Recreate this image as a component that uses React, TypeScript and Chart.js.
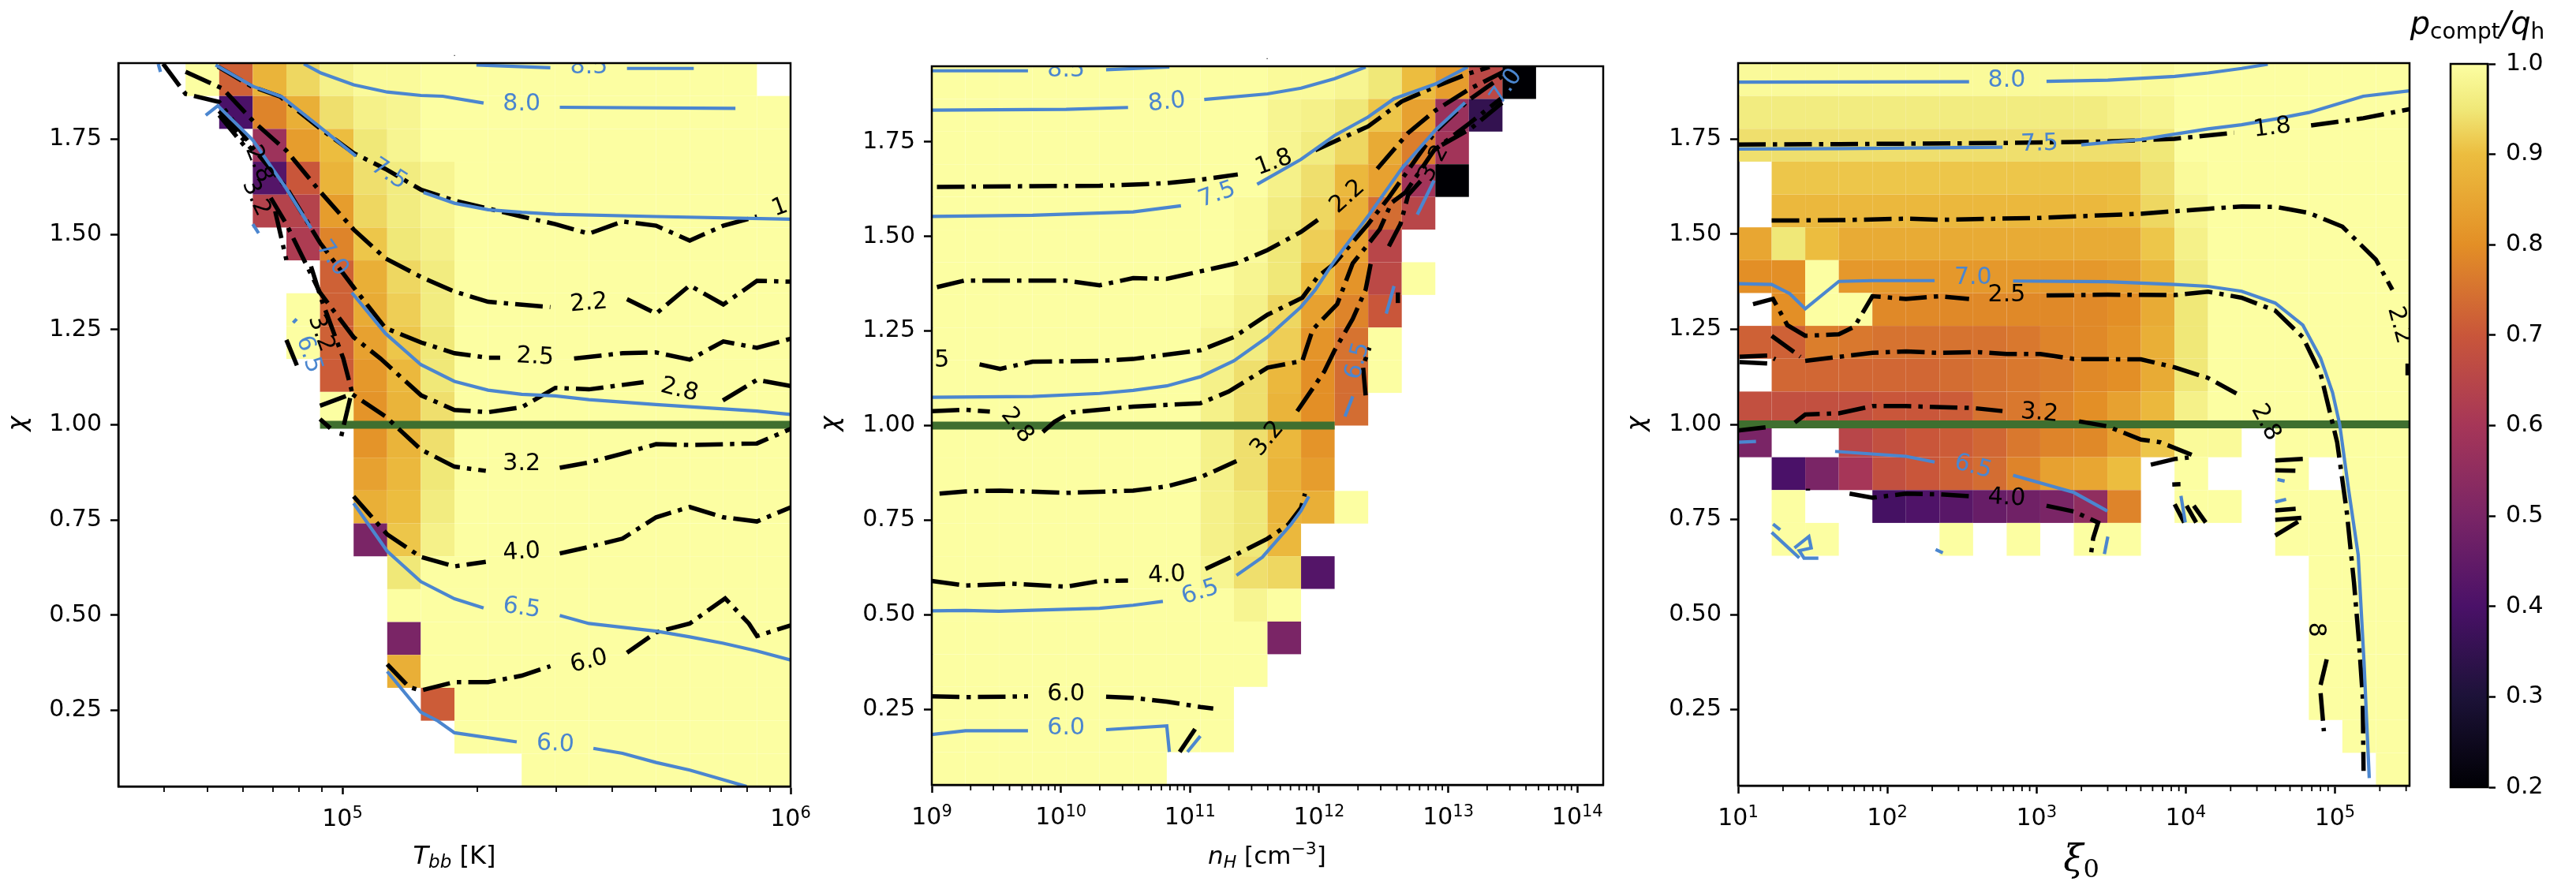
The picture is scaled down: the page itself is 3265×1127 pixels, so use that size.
import { useEffect, useRef } from "react";
import Chart from "chart.js/auto";

const _ = null;

// colour bar
const cbValues = [0.2, 0.3, 0.4, 0.5, 0.6, 0.7, 0.8, 0.9, 0.95, 1.0];
const cbColors = ["#000004", "#1c1238", "#4a1168", "#7a2566", "#a63658", "#c9563a", "#e38f26", "#ecbd3f", "#f0e878", "#fcfea2"];
const cbTicks = [0.2, 0.3, 0.4, 0.5, 0.6, 0.7, 0.8, 0.9, 1.0];

const chiTicks = [0.25, 0.5, 0.75, 1.0, 1.25, 1.5, 1.75];

// ---- Tbb panel ----
const tbbGrid = [
  [_, _, 1, .72, .88, .93, .97, .99, .99, 1, 1, 1, 1, 1, 1, 1, 1, 1, 1, _],
  [_, _, _, .40, .78, .87, .94, .97, .98, 1, 1, 1, 1, 1, 1, 1, 1, 1, 1, 1],
  [_, _, _, _, .58, .83, .90, .95, .98, 1, 1, 1, 1, 1, 1, 1, 1, 1, 1, 1],
  [_, _, _, _, .42, .70, .88, .94, .96, .98, 1, 1, 1, 1, 1, 1, 1, 1, 1, 1],
  [_, _, _, _, .64, .64, .83, .93, .96, .98, 1, 1, 1, 1, 1, 1, 1, 1, 1, 1],
  [_, _, _, _, _, .62, .78, .91, .95, .97, 1, 1, 1, 1, 1, 1, 1, 1, 1, 1],
  [_, _, _, _, _, _, .72, .87, .93, .96, 1, 1, 1, 1, 1, 1, 1, 1, 1, 1],
  [_, _, _, _, _, 1, .72, .86, .92, .96, 1, 1, 1, 1, 1, 1, 1, 1, 1, 1],
  [_, _, _, _, _, 1, .72, .84, .91, .95, 1, 1, 1, 1, 1, 1, 1, 1, 1, 1],
  [_, _, _, _, _, _, .71, .82, .89, .95, 1, 1, 1, 1, 1, 1, 1, 1, 1, 1],
  [_, _, _, _, _, _, 1, .81, .88, .94, 1, 1, 1, 1, 1, 1, 1, 1, 1, 1],
  [_, _, _, _, _, _, _, .81, .88, .94, 1, 1, 1, 1, 1, 1, 1, 1, 1, 1],
  [_, _, _, _, _, _, _, .84, .89, .95, 1, 1, 1, 1, 1, 1, 1, 1, 1, 1],
  [_, _, _, _, _, _, _, .87, .90, .96, 1, 1, 1, 1, 1, 1, 1, 1, 1, 1],
  [_, _, _, _, _, _, _, .50, .91, .97, 1, 1, 1, 1, 1, 1, 1, 1, 1, 1],
  [_, _, _, _, _, _, _, _, .95, 1, 1, 1, 1, 1, 1, 1, 1, 1, 1, 1],
  [_, _, _, _, _, _, _, _, 1, 1, 1, 1, 1, 1, 1, 1, 1, 1, 1, 1],
  [_, _, _, _, _, _, _, _, .50, 1, 1, 1, 1, 1, 1, 1, 1, 1, 1, 1],
  [_, _, _, _, _, _, _, _, .87, 1, 1, 1, 1, 1, 1, 1, 1, 1, 1, 1],
  [_, _, _, _, _, _, _, _, _, .71, 1, 1, 1, 1, 1, 1, 1, 1, 1, 1],
  [_, _, _, _, _, _, _, _, _, _, 1, 1, 1, 1, 1, 1, 1, 1, 1, 1],
  [_, _, _, _, _, _, _, _, _, _, _, _, 1, 1, 1, 1, 1, 1, 1, 1],
];
const tbbBlack = [
  [[4.722, 1.941], [4.797, 1.889], [4.861, 1.862], [4.957, 1.772], [5.026, 1.713], [5.096, 1.672], [5.176, 1.617], [5.25, 1.589], [5.325, 1.568], [5.4, 1.547], [5.475, 1.527], [5.55, 1.502], [5.625, 1.534], [5.7, 1.523], [5.775, 1.484], [5.85, 1.523], [5.925, 1.547]],
  [[4.65, 1.927], [4.733, 1.883], [4.802, 1.796], [4.875, 1.72], [4.95, 1.613], [5.025, 1.513], [5.096, 1.437], [5.176, 1.388], [5.25, 1.35], [5.325, 1.323], [5.464, 1.309]],
  [[5.635, 1.33], [5.7, 1.292], [5.775, 1.366], [5.85, 1.316], [5.925, 1.378], [6.0, 1.376]],
  [[4.6, 1.948], [4.65, 1.869], [4.725, 1.848], [4.8, 1.727], [4.875, 1.623], [4.95, 1.478], [5.025, 1.361], [5.096, 1.254], [5.176, 1.216], [5.25, 1.188], [5.325, 1.176], [5.352, 1.176]],
  [[5.517, 1.174], [5.625, 1.188], [5.7, 1.19], [5.775, 1.171], [5.85, 1.219], [5.925, 1.202], [6.0, 1.226]],
  [[4.725, 1.824], [4.8, 1.72]],
  [[4.84, 1.596], [4.875, 1.527], [4.95, 1.347], [5.025, 1.23], [5.085, 1.174], [5.176, 1.077], [5.25, 1.039], [5.325, 1.033], [5.4, 1.046], [5.475, 1.097], [5.55, 1.093], [5.672, 1.112]],
  [[5.849, 1.064], [5.925, 1.118], [6.0, 1.102]],
  [[4.725, 1.813], [4.79, 1.72]],
  [[4.85, 1.561], [4.875, 1.433]],
  [[4.93, 1.416], [4.952, 1.333], [5.002, 1.174], [5.021, 1.088], [4.994, 0.953]],
  [[4.95, 1.05], [5.021, 1.081], [5.096, 1.022], [5.175, 0.935], [5.25, 0.89], [5.32, 0.879]],
  [[5.485, 0.887], [5.55, 0.901], [5.625, 0.924], [5.7, 0.949], [5.775, 0.947], [5.925, 0.951], [6.0, 0.989]],
  [[4.95, 1.015], [4.973, 0.991]],
  [[4.875, 1.223], [4.904, 1.14]],
  [[5.025, 0.812], [5.1, 0.712], [5.175, 0.653], [5.25, 0.628], [5.32, 0.64]],
  [[5.485, 0.662], [5.55, 0.679], [5.625, 0.701], [5.7, 0.757], [5.775, 0.784], [5.85, 0.757], [5.925, 0.746], [6.0, 0.783]],
  [[5.1, 0.371], [5.149, 0.311], [5.175, 0.302], [5.25, 0.324], [5.325, 0.324], [5.4, 0.341], [5.464, 0.366]],
  [[5.635, 0.401], [5.7, 0.455], [5.775, 0.478], [5.854, 0.544], [5.907, 0.478], [5.925, 0.445], [6.0, 0.473]],
];
const tbbBlue = [
  [[5.299, 1.945], [5.464, 1.938]],
  [[5.635, 1.936], [5.784, 1.936]],
  [[4.914, 1.948], [4.952, 1.924], [5.025, 1.893], [5.1, 1.874], [5.175, 1.865], [5.224, 1.863], [5.315, 1.845]],
  [[5.485, 1.834], [5.877, 1.831]],
  [[4.717, 1.945], [4.8, 1.889], [4.864, 1.862], [4.95, 1.782], [5.03, 1.706]],
  [[5.181, 1.61], [5.25, 1.582], [5.325, 1.565], [5.4, 1.558], [5.475, 1.553], [5.7, 1.547], [6.0, 1.54]],
  [[4.695, 1.813], [4.722, 1.838], [4.8, 1.748], [4.875, 1.62], [4.93, 1.516]],
  [[4.8, 1.527], [4.813, 1.503]],
  [[4.589, 1.948], [4.594, 1.927]],
  [[5.021, 1.347], [5.096, 1.24], [5.175, 1.158], [5.25, 1.114], [5.325, 1.091], [5.4, 1.08], [5.475, 1.076], [5.55, 1.066], [5.7, 1.053], [5.925, 1.036], [6.0, 1.027]],
  [[4.89, 1.268], [4.898, 1.278]],
  [[5.025, 0.794], [5.1, 0.668], [5.175, 0.588], [5.25, 0.543], [5.315, 0.519]],
  [[5.485, 0.499], [5.55, 0.478], [5.7, 0.458], [5.775, 0.443], [5.85, 0.426], [5.925, 0.406], [6.0, 0.382]],
  [[5.1, 0.352], [5.175, 0.245], [5.213, 0.222], [5.25, 0.191], [5.389, 0.167]],
  [[5.56, 0.15], [5.625, 0.137], [5.7, 0.113], [5.775, 0.093], [5.902, 0.05]],
];
const tbbBlackLabels = [
  { t: "1.8", x: 6.0, y: 1.58, r: -20 },
  { t: "2.2", x: 5.55, y: 1.319, r: -5 },
  { t: "2.5", x: 5.43, y: 1.178, r: 3 },
  { t: "2.8", x: 5.752, y: 1.091, r: 14 },
  { t: "2.8", x: 4.813, y: 1.685, r: 68 },
  { t: "3.2", x: 4.807, y: 1.596, r: 65 },
  { t: "3.2", x: 4.952, y: 1.24, r: 70 },
  { t: "3.2", x: 5.4, y: 0.898, r: 0 },
  { t: "4.0", x: 5.4, y: 0.665, r: -4 },
  { t: "6.0", x: 5.55, y: 0.378, r: -14 },
];
const tbbBlueLabels = [
  { t: "8.5", x: 5.55, y: 1.94, r: 0 },
  { t: "8.0", x: 5.4, y: 1.841, r: 0 },
  { t: "7.5", x: 5.104, y: 1.658, r: 33 },
  { t: "7.0", x: 4.977, y: 1.437, r: 55 },
  { t: "6.5", x: 4.925, y: 1.185, r: 72 },
  { t: "6.5", x: 5.4, y: 0.518, r: 8 },
  { t: "6.0", x: 5.475, y: 0.161, r: 3 },
];
const tbbGreen = [[4.95, 1.0], [6.0, 1.0]];
const tbbTicks = [1e5, 1e6];
const tbbTickExps = ["5", "6"];

// ---- nH panel ----
const nhGrid = [
  [1, 1, 1, 1, 1, 1, 1, 1, 1, 1, .99, .99, .98, .95, .90, .83, .66, .2, _, _],
  [1, 1, 1, 1, 1, 1, 1, 1, 1, 1, .98, .97, .95, .91, .84, .57, .35, _, _, _],
  [1, 1, 1, 1, 1, 1, 1, 1, 1, 1, .98, .96, .93, .86, .77, .59, _, _, _, _],
  [1, 1, 1, 1, 1, 1, 1, 1, 1, 1, .97, .94, .89, .84, .59, .2, _, _, _, _],
  [1, 1, 1, 1, 1, 1, 1, 1, 1, .99, .96, .93, .87, .74, .65, _, _, _, _, _],
  [1, 1, 1, 1, 1, 1, 1, 1, 1, .99, .95, .92, .84, .65, _, _, _, _, _, _],
  [1, 1, 1, 1, 1, 1, 1, 1, 1, .98, .95, .90, .81, .66, 1, _, _, _, _, _],
  [1, 1, 1, 1, 1, 1, 1, 1, .99, .97, .93, .84, .78, .70, _, _, _, _, _, _],
  [1, 1, 1, 1, 1, 1, 1, 1, .98, .96, .92, .81, .75, 1, _, _, _, _, _, _],
  [1, 1, 1, 1, 1, 1, 1, 1, .97, .94, .89, .80, .74, 1, _, _, _, _, _, _],
  [1, 1, 1, 1, 1, 1, 1, 1, .97, .94, .88, .80, .74, _, _, _, _, _, _, _],
  [1, 1, 1, 1, 1, 1, 1, 1, .97, .94, .89, .81, _, _, _, _, _, _, _, _],
  [1, 1, 1, 1, 1, 1, 1, 1, .97, .94, .88, .83, _, _, _, _, _, _, _, _],
  [1, 1, 1, 1, 1, 1, 1, 1, .97, .95, .88, .87, 1, _, _, _, _, _, _, _],
  [1, 1, 1, 1, 1, 1, 1, 1, .97, .95, .89, _, _, _, _, _, _, _, _, _],
  [1, 1, 1, 1, 1, 1, 1, 1, .98, .94, .93, .42, _, _, _, _, _, _, _, _],
  [1, 1, 1, 1, 1, 1, 1, 1, 1, .98, 1, _, _, _, _, _, _, _, _, _],
  [1, 1, 1, 1, 1, 1, 1, 1, 1, 1, .50, _, _, _, _, _, _, _, _, _],
  [1, 1, 1, 1, 1, 1, 1, 1, 1, 1, _, _, _, _, _, _, _, _, _, _],
  [1, 1, 1, 1, 1, 1, 1, 1, 1, _, _, _, _, _, _, _, _, _, _, _],
  [1, 1, 1, 1, 1, 1, 1, 1, 1, _, _, _, _, _, _, _, _, _, _, _],
  [1, 1, 1, 1, 1, 1, 1, _, _, _, _, _, _, _, _, _, _, _, _, _],
];
const nhBlack = [
  [[9.04, 1.631], [9.78, 1.633], [10.3, 1.634], [10.56, 1.637], [10.82, 1.641], [11.08, 1.65], [11.37, 1.664]],
  [[11.97, 1.728], [12.15, 1.756], [12.38, 1.791], [12.64, 1.857], [12.9, 1.896], [13.16, 1.931], [13.32, 1.948]],
  [[9.04, 1.366], [9.25, 1.383], [10.04, 1.383], [10.3, 1.371], [10.56, 1.39], [10.82, 1.388], [11.36, 1.429], [11.6, 1.464], [11.86, 1.512], [11.99, 1.544]],
  [[12.45, 1.679], [12.69, 1.774], [12.9, 1.833], [13.16, 1.889], [13.42, 1.934], [13.5, 1.951]],
  [[9.37, 1.162], [9.53, 1.15], [9.78, 1.169], [10.3, 1.171], [10.56, 1.176], [11.08, 1.199], [11.34, 1.234], [11.6, 1.293], [11.87, 1.338], [11.99, 1.394], [12.12, 1.429], [12.38, 1.533], [12.54, 1.603], [12.9, 1.777], [13.16, 1.861], [13.42, 1.924]],
  [[9.0, 1.038], [9.25, 1.042], [9.45, 1.037]],
  [[9.86, 0.983], [9.95, 1.01], [10.08, 1.035], [10.56, 1.05], [11.08, 1.059], [11.3, 1.09], [11.6, 1.153], [11.87, 1.171], [11.95, 1.254], [12.14, 1.321], [12.26, 1.429], [12.36, 1.471], [12.47, 1.519], [12.56, 1.589], [12.67, 1.617], [12.89, 1.728], [13.16, 1.798], [13.42, 1.868]],
  [[9.06, 0.82], [9.26, 0.826], [9.53, 0.828], [10.04, 0.822], [10.56, 0.828], [10.82, 0.839], [11.08, 0.863], [11.36, 0.906]],
  [[11.83, 1.038], [12.04, 1.143], [12.12, 1.199], [12.26, 1.282], [12.36, 1.359], [12.4, 1.429]],
  [[12.54, 1.474], [12.63, 1.533], [12.69, 1.61], [12.8, 1.652]],
  [[12.95, 1.742], [13.17, 1.784], [13.42, 1.854]],
  [[12.36, 1.08], [12.34, 1.157], [12.39, 1.206]],
  [[12.61, 1.324], [12.61, 1.352]],
  [[9.0, 0.589], [9.26, 0.577], [9.61, 0.582], [10.04, 0.574], [10.3, 0.589], [10.52, 0.59]],
  [[11.12, 0.621], [11.34, 0.656], [11.6, 0.701], [11.76, 0.738], [11.86, 0.783], [11.89, 0.82]],
  [[9.0, 0.284], [9.26, 0.282], [9.745, 0.284]],
  [[10.35, 0.283], [10.56, 0.28], [10.82, 0.27], [11.08, 0.256], [11.18, 0.252]],
  [[10.92, 0.137], [11.04, 0.198]],
];
const nhBlue = [
  [[9.0, 1.938], [9.745, 1.938]],
  [[10.35, 1.941], [10.84, 1.948]],
  [[9.0, 1.834], [10.04, 1.836], [10.52, 1.841]],
  [[11.11, 1.862], [11.6, 1.877], [11.86, 1.892], [12.12, 1.917], [12.36, 1.948]],
  [[9.0, 1.553], [9.78, 1.556], [10.56, 1.565], [10.93, 1.581]],
  [[11.52, 1.638], [11.86, 1.704], [12.12, 1.767], [12.38, 1.816], [12.58, 1.864], [12.9, 1.903], [13.15, 1.948]],
  [[9.0, 1.075], [9.78, 1.077], [10.3, 1.085], [10.56, 1.093], [10.82, 1.105], [11.08, 1.129], [11.34, 1.171], [11.6, 1.234], [11.86, 1.314], [11.97, 1.359], [12.12, 1.436], [12.38, 1.554], [12.64, 1.68], [12.9, 1.781], [13.13, 1.854]],
  [[12.76, 1.558], [12.89, 1.648]],
  [[12.52, 1.296], [12.58, 1.369]],
  [[12.2, 1.024], [12.26, 1.077]],
  [[9.0, 0.51], [9.26, 0.511], [9.52, 0.509], [10.3, 0.517], [10.56, 0.525], [10.79, 0.535]],
  [[11.36, 0.604], [11.56, 0.652], [11.78, 0.738], [11.86, 0.775], [11.92, 0.813]],
  [[9.0, 0.183], [9.26, 0.193], [9.745, 0.193]],
  [[10.35, 0.196], [10.82, 0.206], [10.84, 0.137]],
  [[10.98, 0.137], [11.08, 0.179]],
];
const nhBlackLabels = [
  { t: "1.8", x: 11.65, y: 1.695, r: -20 },
  { t: "2.2", x: 12.22, y: 1.605, r: -42 },
  { t: "2.5", x: 8.99, y: 1.171, r: 0 },
  { t: "2.8", x: 9.66, y: 1.0, r: 52 },
  { t: "3.2", x: 11.6, y: 0.965, r: -50 },
  { t: "3.2", x: 12.89, y: 1.693, r: -62 },
  { t: "4.0", x: 10.82, y: 0.604, r: -3 },
  { t: "6.0", x: 10.04, y: 0.289, r: 0 },
];
const nhBlueLabels = [
  { t: "8.5", x: 10.04, y: 1.94, r: 0 },
  { t: "8.0", x: 10.82, y: 1.854, r: -6 },
  { t: "7.5", x: 11.21, y: 1.61, r: -20 },
  { t: "7.0", x: 13.45, y: 1.896, r: -55 },
  { t: "6.5", x: 12.3, y: 1.171, r: -75 },
  { t: "6.5", x: 11.08, y: 0.559, r: -18 },
  { t: "6.0", x: 10.04, y: 0.2, r: 0 },
];
const nhGreen = [[9.0, 1.0], [12.12, 1.0]];
const nhTicks = [1e9, 1e10, 1e11, 1e12, 1e13, 1e14];
const nhTickExps = ["9", "10", "11", "12", "13", "14"];

// ---- xi panel ----
const xiGrid = [
  [.99, .99, .99, .99, .99, .99, .99, .99, .99, .99, .99, .99, .99, 1, 1, 1, 1, 1, 1, 1],
  [.96, .96, .96, .96, .96, .96, .96, .96, .96, .96, .96, .97, .98, 1, 1, 1, 1, 1, 1, 1],
  [.94, .94, .94, .94, .94, .94, .94, .94, .94, .94, .94, .94, .95, 1, 1, 1, 1, 1, 1, 1],
  [_, .91, .91, .91, .91, .91, .91, .91, .91, .91, .91, .91, .94, .99, 1, 1, 1, 1, 1, 1],
  [_, .89, .89, .89, .89, .89, .89, .89, .89, .89, .89, .90, .93, .98, 1, 1, 1, 1, 1, 1],
  [.85, .95, .90, .86, .86, .86, .86, .86, .86, .86, .86, .86, .91, .97, 1, 1, 1, 1, 1, 1],
  [.80, .80, 1, .82, .82, .82, .82, .82, .82, .82, .82, .83, .88, .96, 1, 1, 1, 1, 1, 1],
  [_, .80, 1, 1, .79, .79, .79, .79, .79, .79, .79, .80, .86, .95, 1, 1, 1, 1, 1, 1],
  [.72, .72, .77, .76, .75, .75, .75, .75, .76, .78, .79, .81, .87, .95, 1, 1, 1, 1, 1, 1],
  [_, .73, .73, .73, .73, .73, .74, .75, .76, .77, .79, .80, .86, .95, 1, 1, 1, 1, 1, 1],
  [.68, .68, .68, .68, .70, .70, .71, .75, .76, .78, .80, .84, .89, .97, 1, 1, 1, 1, 1, 1],
  [.50, _, _, .65, .68, .70, .71, .73, .76, .78, .79, .84, .91, .99, .99, _, 1, 1, 1, 1],
  [_, .40, .50, .60, .68, .70, .72, .74, .78, .84, .85, .90, _, 1, _, _, 1, _, 1, 1],
  [_, 1, _, _, .39, .41, .43, .46, .48, .50, .55, .78, _, 1, 1, _, 1, 1, 1, 1],
  [_, 1, 1, _, _, _, 1, _, 1, _, 1, 1, _, _, _, _, 1, 1, 1, 1],
  [_, _, _, _, _, _, _, _, _, _, _, _, _, _, _, _, _, 1, 1, 1],
  [_, _, _, _, _, _, _, _, _, _, _, _, _, _, _, _, _, 1, 1, 1],
  [_, _, _, _, _, _, _, _, _, _, _, _, _, _, _, _, _, 1, 1, 1],
  [_, _, _, _, _, _, _, _, _, _, _, _, _, _, _, _, _, 1, 1, 1],
  [_, _, _, _, _, _, _, _, _, _, _, _, _, _, _, _, _, 1, 1, 1],
  [_, _, _, _, _, _, _, _, _, _, _, _, _, _, _, _, _, _, 1, 1],
  [_, _, _, _, _, _, _, _, _, _, _, _, _, _, _, _, _, _, _, 1],
];
const xiBlack = [
  [[1.0, 1.736], [1.683, 1.737], [2.8, 1.74], [3.475, 1.744], [3.925, 1.751], [4.325, 1.767]],
  [[4.84, 1.786], [5.19, 1.805], [5.5, 1.829]],
  [[1.225, 1.536], [1.683, 1.537], [2.125, 1.541], [2.35, 1.538], [3.025, 1.543], [3.7, 1.554], [4.15, 1.567], [4.375, 1.573], [4.6, 1.572], [4.825, 1.556], [5.05, 1.52], [5.275, 1.433], [5.385, 1.354]],
  [[5.487, 1.16], [5.487, 1.129]],
  [[1.1, 1.316], [1.234, 1.33], [1.33, 1.261], [1.45, 1.233], [1.675, 1.237], [1.78, 1.257], [1.9, 1.337], [2.125, 1.33], [2.35, 1.337], [2.548, 1.33]],
  [[3.067, 1.339], [3.475, 1.341], [3.925, 1.34], [4.15, 1.349], [4.375, 1.333], [4.6, 1.299], [4.785, 1.229], [4.904, 1.133], [4.968, 1.029], [5.015, 0.953], [5.08, 0.768], [5.128, 0.583], [5.16, 0.434], [5.186, 0.286], [5.192, 0.089]],
  [[1.225, 1.233], [1.417, 1.178]],
  [[1.45, 1.167], [1.9, 1.188], [2.125, 1.192], [2.35, 1.188], [2.61, 1.19], [2.8, 1.185], [3.025, 1.185], [3.25, 1.172], [3.7, 1.171], [3.925, 1.15], [4.15, 1.122], [4.34, 1.081]],
  [[1.01, 1.178], [1.2, 1.181], [1.25, 1.171]],
  [[1.01, 1.164], [1.2, 1.16]],
  [[1.0, 0.984], [1.2, 0.993]],
  [[1.38, 1.005], [1.45, 1.026], [1.675, 1.029], [1.9, 1.048], [2.125, 1.048], [2.575, 1.043], [2.772, 1.035]],
  [[3.285, 1.008], [3.475, 0.995], [3.7, 0.96], [3.83, 0.953], [4.04, 0.92]],
  [[3.766, 0.894], [3.926, 0.909], [4.02, 0.913]],
  [[1.468, 0.831], [1.468, 0.826]],
  [[1.747, 0.818], [1.9, 0.807], [2.125, 0.818], [2.35, 0.816], [2.548, 0.811]],
  [[3.067, 0.786], [3.25, 0.771], [3.413, 0.742], [3.38, 0.701], [3.365, 0.659]],
  [[3.91, 0.842], [3.965, 0.843]],
  [[3.926, 0.79], [3.99, 0.742]],
  [[4.006, 0.786], [4.07, 0.742]],
  [[4.054, 0.786], [4.134, 0.742]],
  [[4.6, 0.905], [4.808, 0.91]],
  [[4.6, 0.879], [4.735, 0.878]],
  [[4.6, 0.774], [4.737, 0.778]],
  [[4.6, 0.749], [4.775, 0.754]],
  [[4.6, 0.708], [4.753, 0.744]],
  [[4.945, 0.382], [4.904, 0.315]],
  [[4.904, 0.293], [4.926, 0.193]],
];
const xiBlue = [
  [[1.0, 1.9], [2.548, 1.901]],
  [[3.067, 1.902], [3.478, 1.905], [3.926, 1.915], [4.15, 1.924], [4.375, 1.936], [4.55, 1.947]],
  [[1.0, 1.724], [1.675, 1.725], [2.772, 1.729]],
  [[3.3, 1.735], [3.7, 1.749], [3.925, 1.763], [4.15, 1.777], [4.375, 1.788], [4.6, 1.803], [4.825, 1.82], [5.19, 1.863], [5.5, 1.877]],
  [[1.0, 1.37], [1.225, 1.368], [1.346, 1.344], [1.45, 1.304], [1.675, 1.376], [1.9, 1.378], [2.317, 1.378]],
  [[2.843, 1.377], [3.475, 1.375], [3.925, 1.368], [4.15, 1.363], [4.375, 1.35], [4.6, 1.319], [4.785, 1.261], [4.904, 1.174], [4.984, 1.084], [5.032, 1.0], [5.092, 0.827], [5.156, 0.657], [5.195, 0.375], [5.23, 0.07]],
  [[1.0, 0.953], [1.12, 0.955]],
  [[1.65, 0.929], [2.125, 0.916], [2.317, 0.901]],
  [[2.843, 0.866], [3.25, 0.821], [3.475, 0.772]],
  [[3.478, 0.705], [3.455, 0.659]],
  [[1.225, 0.716], [1.41, 0.649]],
  [[1.234, 0.738], [1.282, 0.723]],
  [[1.378, 0.675], [1.474, 0.705], [1.49, 0.675], [1.41, 0.668], [1.442, 0.648], [1.538, 0.648]],
  [[2.324, 0.671], [2.372, 0.662]],
  [[4.615, 0.855], [4.663, 0.851]],
  [[4.6, 0.796], [4.673, 0.803]],
  [[3.968, 0.812], [3.997, 0.742]],
];
const xiBlackLabels = [
  { t: "1.8", x: 4.58, y: 1.779, r: -7 },
  { t: "2.2", x: 5.43, y: 1.261, r: 75 },
  { t: "2.5", x: 2.8, y: 1.34, r: 0 },
  { t: "2.8", x: 4.535, y: 1.005, r: 62 },
  { t: "8", x: 4.87, y: 0.46, r: 90 },
  { t: "3.2", x: 3.02, y: 1.029, r: 5 },
  { t: "4.0", x: 2.8, y: 0.806, r: 3 },
];
const xiBlueLabels = [
  { t: "8.0", x: 2.8, y: 1.903, r: 0 },
  { t: "7.5", x: 3.02, y: 1.737, r: -2 },
  { t: "7.0", x: 2.575, y: 1.385, r: 0 },
  { t: "6.5", x: 2.575, y: 0.888, r: 15 },
];
const xiGreen = [[1.0, 1.0], [5.5, 1.0]];
const xiTicks = [1e1, 1e2, 1e3, 1e4, 1e5];
const xiTickExps = ["1", "2", "3", "4", "5"];

const BLUE = "#4b86cf";
const GREEN = "#3f6f2f";
const FONT = "'DejaVu Sans'";

type Seg = { t: string; font: string; dy?: number };

function drawSegs(ctx: CanvasRenderingContext2D, segs: Seg[], cx: number, cy: number) {
  let w = 0;
  segs.forEach((s) => { ctx.font = s.font; w += ctx.measureText(s.t).width; });
  let x = cx - w / 2;
  ctx.fillStyle = "#000";
  ctx.textAlign = "left";
  ctx.textBaseline = "alphabetic";
  segs.forEach((s) => {
    ctx.font = s.font;
    ctx.fillText(s.t, x, cy + (s.dy ?? 0));
    x += ctx.measureText(s.t).width;
  });
}

function hexRgb(h: string) {
  return [parseInt(h.slice(1, 3), 16), parseInt(h.slice(3, 5), 16), parseInt(h.slice(5, 7), 16)];
}

function colorOf(v: number) {
  for (let i = 1; i < cbValues.length; i++) {
    if (v <= cbValues[i]) {
      const f = (v - cbValues[i - 1]) / (cbValues[i] - cbValues[i - 1]);
      const a = hexRgb(cbColors[i - 1]);
      const b = hexRgb(cbColors[i]);
      return `rgb(${a.map((c, k) => Math.round(c + (b[k] - c) * f)).join(",")})`;
    }
  }
  return cbColors[cbColors.length - 1];
}

function panelPlugin(p: any) {
  return {
    id: "panel",
    beforeDatasetsDraw(chart: any) {
      const { ctx, scales } = chart;
      const dx = (p.logMax - p.logMin) / 20;
      const dy = 1.9 / 22;
      p.grid.forEach((row: (number | null)[], r: number) => {
        row.forEach((v, c) => {
          if (v === null) return;
          const x0 = scales.x.getPixelForValue(10 ** (p.logMin + c * dx));
          const x1 = scales.x.getPixelForValue(10 ** (p.logMin + (c + 1) * dx));
          const y0 = scales.y.getPixelForValue(1.95 - r * dy);
          const y1 = scales.y.getPixelForValue(1.95 - (r + 1) * dy);
          ctx.fillStyle = colorOf(v);
          ctx.fillRect(x0, y0, x1 - x0, y1 - y0);
        });
      });
    },
    afterDatasetsDraw(chart: any) {
      const { ctx, scales, chartArea: a } = chart;
      ctx.save();
      ctx.beginPath();
      ctx.rect(a.left, a.top, a.right - a.left, a.bottom - a.top);
      ctx.clip();
      ctx.font = `30px ${FONT}`;
      ctx.textAlign = "center";
      ctx.textBaseline = "middle";
      const put = (list: any[], color: string) => {
        ctx.fillStyle = color;
        list.forEach((l) => {
          ctx.save();
          ctx.translate(scales.x.getPixelForValue(10 ** l.x), scales.y.getPixelForValue(l.y));
          ctx.rotate((l.r * Math.PI) / 180);
          ctx.fillText(l.t, 0, 0);
          ctx.restore();
        });
      };
      put(p.blackLabels, "#000");
      put(p.blueLabels, BLUE);
      ctx.restore();
    },
    afterDraw(chart: any) {
      const { ctx, scales, chartArea: a } = chart;
      ctx.save();
      ctx.strokeStyle = "#000";
      ctx.lineWidth = 2.5;
      ctx.strokeRect(a.left, a.top, a.right - a.left, a.bottom - a.top);
      // minor log ticks
      ctx.lineWidth = 1.8;
      for (let d = Math.floor(p.logMin); d < Math.ceil(p.logMax); d++) {
        for (let m = 2; m < 10; m++) {
          const v = m * 10 ** d;
          if (Math.log10(v) < p.logMin || Math.log10(v) > p.logMax) continue;
          const px = scales.x.getPixelForValue(v);
          ctx.beginPath();
          ctx.moveTo(px, a.bottom);
          ctx.lineTo(px, a.bottom + 7);
          ctx.stroke();
        }
      }
      // decade labels, 10 with a raised exponent
      p.ticks.forEach((v: number, i: number) => {
        drawSegs(ctx, [
          { t: "10", font: `30px ${FONT}` },
          { t: p.tickExps[i], font: `21px ${FONT}`, dy: -10 },
        ], scales.x.getPixelForValue(v), a.bottom + 50);
      });
      drawSegs(ctx, p.xLabel, p.xLabelX - p.left, p.xLabelY);
      if (p.dot) drawSegs(ctx, [{ t: ".", font: `10px ${FONT}` }], p.xLabelX - p.left, a.top - 9);
      ctx.translate(p.chiX - p.left, 537);
      ctx.rotate(-Math.PI / 2);
      drawSegs(ctx, [{ t: "χ", font: `italic 32px ${FONT}` }], 0, 0);
      ctx.restore();
    },
  };
}

function lineSets(segs: number[][][], color: string, width: number, dash: number[]) {
  return segs.map((seg) => ({
    data: seg.map(([lx, chi]) => ({ x: 10 ** lx, y: chi })),
    borderColor: color,
    borderWidth: width,
    borderDash: dash,
    borderCapStyle: "butt",
    borderJoinStyle: "miter",
    pointRadius: 0,
    showLine: true,
    tension: 0,
    clip: 0,
  }));
}

function Panel(p: any) {
  const canvasRef = useRef<HTMLCanvasElement>(null);
  useEffect(() => {
    if (!canvasRef.current) return;
    const chart = new Chart(canvasRef.current, {
      type: "scatter",
      data: {
        datasets: [
          ...lineSets(p.blue, BLUE, 4.2, []),
          ...lineSets(p.black, "#000", 5.5, [35, 9, 5.5, 9]),
          ...lineSets([p.green], GREEN, 10, []),
        ],
      } as any,
      options: {
        animation: false,
        responsive: false,
        devicePixelRatio: 1,
        layout: { padding: { top: p.top, right: p.width - (p.plotRight - p.left), left: 0, bottom: 0 } },
        plugins: { legend: { display: false }, tooltip: { enabled: false } },
        scales: {
          x: {
            type: "logarithmic",
            min: 10 ** p.logMin,
            max: 10 ** p.logMax,
            afterBuildTicks: (s: any) => { s.ticks = p.ticks.map((v: number) => ({ value: v })); },
            afterFit: (s: any) => { s.height = 1127 - p.bottom; },
            ticks: { display: false },
            grid: { drawOnChartArea: false, tickLength: 10, tickWidth: 2.5, tickColor: "#000" },
            border: { color: "#000", width: 2.5 },
          },
          y: {
            min: 0.05,
            max: 1.95,
            afterBuildTicks: (s: any) => { s.ticks = chiTicks.map((v) => ({ value: v })); },
            afterFit: (s: any) => { s.width = p.plotLeft - p.left; },
            ticks: {
              padding: 11,
              color: "#000",
              font: { family: FONT, size: 30 },
              callback: (v: any) => Number(v).toFixed(2),
            },
            grid: { drawOnChartArea: false, tickLength: 10, tickWidth: 2.5, tickColor: "#000" },
            border: { color: "#000", width: 2.5 },
          },
        },
      },
      plugins: [panelPlugin(p)],
    } as any);
    return () => { chart.destroy(); };
  }, []);
  return (
    <canvas
      ref={canvasRef}
      width={p.width}
      height={1127}
      style={{ position: "absolute", left: p.left, top: 0, width: p.width, height: 1127 }}
    />
  );
}

const cbPlugin = {
  id: "cbFrame",
  afterDraw(chart: any) {
    const { ctx, chartArea: a } = chart;
    ctx.save();
    ctx.strokeStyle = "#000";
    ctx.lineWidth = 2.5;
    ctx.strokeRect(a.left, a.top, a.right - a.left, a.bottom - a.top);
    drawSegs(ctx, [
      { t: "p", font: `italic 40px ${FONT}` },
      { t: "compt", font: `28px ${FONT}`, dy: 6 },
      { t: "/", font: `italic 40px ${FONT}` },
      { t: "q", font: `italic 40px ${FONT}` },
      { t: "h", font: `28px ${FONT}`, dy: 6 },
    ], 90, 43);
    ctx.restore();
  },
};

function ColorBar() {
  const canvasRef = useRef<HTMLCanvasElement>(null);
  useEffect(() => {
    if (!canvasRef.current) return;
    const chart = new Chart(canvasRef.current, {
      type: "bar",
      data: {
        labels: ["p"],
        datasets: [{
          data: [[0.2, 1.0]],
          barPercentage: 1,
          categoryPercentage: 1,
          backgroundColor: (c: any) => {
            const a = c.chart.chartArea;
            if (!a) return cbColors[0];
            const g = c.chart.ctx.createLinearGradient(0, a.bottom, 0, a.top);
            cbValues.forEach((v, i) => g.addColorStop((v - 0.2) / 0.8, cbColors[i]));
            return g;
          },
        }],
      } as any,
      options: {
        animation: false,
        responsive: false,
        devicePixelRatio: 1,
        layout: { padding: { top: 81, left: 56, right: 0, bottom: 129 } },
        plugins: { legend: { display: false }, tooltip: { enabled: false } },
        scales: {
          x: { display: false },
          y: {
            position: "right",
            min: 0.2,
            max: 1.0,
            afterBuildTicks: (s: any) => { s.ticks = cbTicks.map((v) => ({ value: v })); },
            afterFit: (s: any) => { s.width = 112; },
            ticks: {
              padding: 13,
              color: "#000",
              font: { family: FONT, size: 30 },
              callback: (v: any) => Number(v).toFixed(1),
            },
            grid: { drawOnChartArea: false, tickLength: 10, tickWidth: 2.5, tickColor: "#000" },
            border: { color: "#000", width: 2.5 },
          },
        },
      },
      plugins: [cbPlugin],
    } as any);
    return () => { chart.destroy(); };
  }, []);
  return (
    <canvas
      ref={canvasRef}
      width={215}
      height={1127}
      style={{ position: "absolute", left: 3050, top: 0, width: 215, height: 1127 }}
    />
  );
}

export default function App() {
  return (
    <div style={{ position: "absolute", left: 0, top: 0, width: 3265, height: 1127, overflow: "hidden", background: "#fff" }}>
      <Panel
        left={0} width={1040} plotLeft={150} plotRight={1002} top={80} bottom={997}
        logMin={4.5} logMax={6} grid={tbbGrid} black={tbbBlack} blue={tbbBlue} green={tbbGreen}
        blackLabels={tbbBlackLabels} blueLabels={tbbBlueLabels} ticks={tbbTicks} tickExps={tbbTickExps}
        chiX={32} xLabelX={576} xLabelY={1095} dot
        xLabel={[
          { t: "T", font: `italic 32px ${FONT}` },
          { t: "bb", font: `italic 23px ${FONT}`, dy: 5 },
          { t: " [K]", font: `32px ${FONT}` },
        ]}
      />
      <Panel
        left={1040} width={1020} plotLeft={1181} plotRight={2032} top={84} bottom={995}
        logMin={9} logMax={14.2} grid={nhGrid} black={nhBlack} blue={nhBlue} green={nhGreen}
        blackLabels={nhBlackLabels} blueLabels={nhBlueLabels} ticks={nhTicks} tickExps={nhTickExps}
        chiX={1062} xLabelX={1606} xLabelY={1095} dot
        xLabel={[
          { t: "n", font: `italic 31px ${FONT}` },
          { t: "H", font: `italic 22px ${FONT}`, dy: 5 },
          { t: " [cm", font: `31px ${FONT}` },
          { t: "−3", font: `22px ${FONT}`, dy: -12 },
          { t: "]", font: `31px ${FONT}` },
        ]}
      />
      <Panel
        left={2060} width={1030} plotLeft={2203} plotRight={3054} top={80} bottom={996}
        logMin={1} logMax={5.5} grid={xiGrid} black={xiBlack} blue={xiBlue} green={xiGreen}
        blackLabels={xiBlackLabels} blueLabels={xiBlueLabels} ticks={xiTicks} tickExps={xiTickExps}
        chiX={2084} xLabelX={2638} xLabelY={1104}
        xLabel={[
          { t: "ξ", font: `italic 46px 'DejaVu Serif'` },
          { t: "0", font: `32px 'DejaVu Serif'`, dy: 8 },
        ]}
      />
      <ColorBar />
    </div>
  );
}
